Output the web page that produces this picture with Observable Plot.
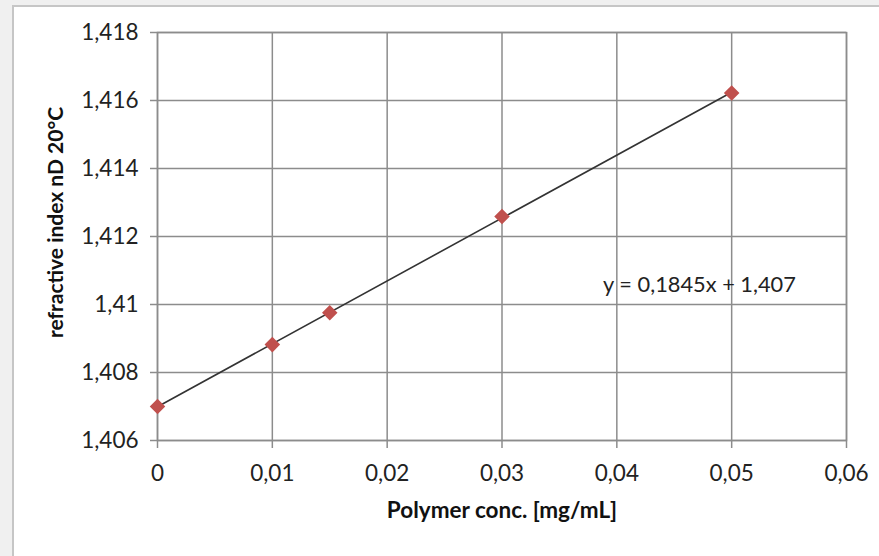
<!DOCTYPE html>
<html>
<head>
<meta charset="utf-8">
<script src="https://cdn.jsdelivr.net/npm/d3@7"></script>
<script src="https://cdn.jsdelivr.net/npm/@observablehq/plot@0.6"></script>
<style>
  html, body { margin: 0; padding: 0; }
  #wrap { position: relative; width: 879px; height: 556px; background: #f0f0f0; overflow: hidden; font-family: Lato, "Open Sans", sans-serif; }
  #panel { position: absolute; left: 12px; top: 5px; width: 900px; height: 600px; background: #fff; border-left: 2px solid #c6c6c6; border-top: 2px solid #c6c6c6; }
  #chart { position: absolute; left: 0; top: 0; }
</style>
</head>
<body>
<div id="wrap"><div id="panel"></div><div id="chart"></div></div>
<script>
const concentration = [0, 0.01, 0.015, 0.03, 0.05];
const refractiveIndex = [1.407, 1.40882, 1.40976, 1.41259, 1.41622];
const xTicks = [0, 0.01, 0.02, 0.03, 0.04, 0.05, 0.06];
const yTicks = [1.406, 1.408, 1.41, 1.412, 1.414, 1.416, 1.418];
const xLabel = "Polymer conc. [mg/mL]";
const yLabel = "refractive index nD 20°C";
const equationText = "y = 0,1845x + 1,407";

const data = concentration.map((c, i) => ({x: c, y: refractiveIndex[i]}));
const comma = d => String(d).replace(".", ",");

const chart = Plot.plot({
  width: 879,
  height: 556,
  marginLeft: 157,
  marginTop: 32,
  marginRight: 33,
  marginBottom: 116,
  style: {fontFamily: "Lato, 'Open Sans', sans-serif", fontSize: "22px", color: "#222", background: "transparent", overflow: "visible"},
  x: {domain: [0, 0.06], ticks: xTicks, tickFormat: comma},
  y: {domain: [1.406, 1.418], ticks: yTicks, tickFormat: comma},
  marks: [
    Plot.gridX(xTicks, {stroke: "#8c8c8c", strokeOpacity: 1, strokeWidth: 1.5}),
    Plot.gridY(yTicks, {stroke: "#8c8c8c", strokeOpacity: 1, strokeWidth: 1.5}),
    Plot.frame({stroke: "#8c8c8c", strokeWidth: 1.5}),
    Plot.axisX(xTicks, {tickSize: 8, tickPadding: 17, stroke: "#8c8c8c", strokeWidth: 1.5, tickFormat: comma, fontSize: 22.5, fill: "#222", label: null}),
    Plot.axisY(yTicks, {tickSize: 7, tickPadding: 12, stroke: "#8c8c8c", strokeWidth: 1.5, tickFormat: comma, fontSize: 22.5, fill: "#222", label: null}),
    Plot.text([xLabel], {frameAnchor: "bottom", dy: 77, text: d => d, fontSize: 22.5, fontWeight: "bold", fill: "#111"}),
    Plot.text([yLabel], {frameAnchor: "left", textAnchor: "middle", dx: -101, dy: -14, rotate: -90, text: d => d, fontSize: 21, fontWeight: "bold", fill: "#111"}),
    Plot.linearRegressionY(data, {x: "x", y: "y", ci: 0, stroke: "#333", strokeWidth: 1.6}),
    Plot.dot(data, {x: "x", y: "y", symbol: "diamond2", r: 7, fill: "#c0504d", stroke: "none"}),
    Plot.text([equationText], {x: 0.0388, y: 1.41056, text: d => d, textAnchor: "start", fontSize: 21.8, fill: "#222"})
  ]
});
document.getElementById("chart").appendChild(chart);
</script>
</body>
</html>
